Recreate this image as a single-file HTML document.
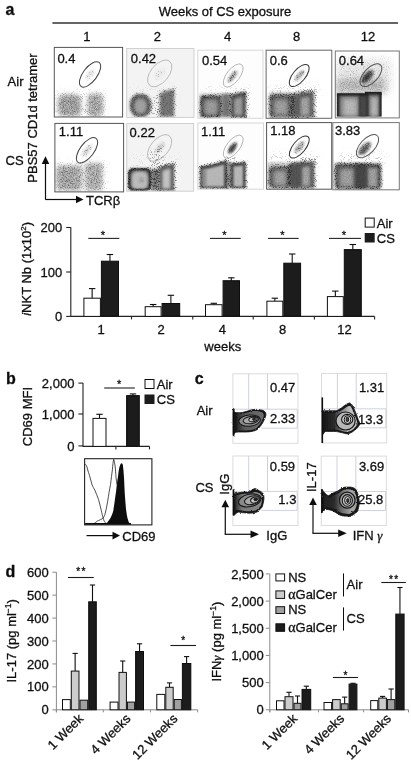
<!DOCTYPE html>
<html><head><meta charset="utf-8"><title>Figure</title>
<style>html,body{margin:0;padding:0;background:#fff;width:411px;height:763px;overflow:hidden}svg{display:block}text{stroke:#111;stroke-width:0.3px}</style>
</head><body>
<svg width="411" height="763" viewBox="0 0 411 763" font-family='"Liberation Sans", Arial, sans-serif' font-size="13" fill="#111">
<defs><filter id="b05" x="-50%" y="-50%" width="200%" height="200%"><feGaussianBlur stdDeviation="0.5"/></filter><filter id="b1" x="-50%" y="-50%" width="200%" height="200%"><feGaussianBlur stdDeviation="1"/></filter><filter id="b15" x="-50%" y="-50%" width="200%" height="200%"><feGaussianBlur stdDeviation="1.5"/></filter><filter id="b2" x="-50%" y="-50%" width="200%" height="200%"><feGaussianBlur stdDeviation="2"/></filter><filter id="b3" x="-50%" y="-50%" width="200%" height="200%"><feGaussianBlur stdDeviation="3"/></filter><filter id="b5" x="-50%" y="-50%" width="200%" height="200%"><feGaussianBlur stdDeviation="5"/></filter>
<filter id="dith" filterUnits="userSpaceOnUse" x="0" y="0" width="411" height="763" color-interpolation-filters="sRGB">
  <feTurbulence type="fractalNoise" baseFrequency="1.13" numOctaves="2" seed="7" result="n"/>
  <feColorMatrix in="n" type="matrix" values="0 0 0 0 0  0 0 0 0 0  0 0 0 0 0  3 0 0 0 -1" result="na"/>
  <feComposite in="SourceGraphic" in2="na" operator="arithmetic" k1="0" k2="2.2" k3="-2.2" k4="0" result="d"/>
  <feColorMatrix in="d" type="matrix" values="1 0 0 0 0  0 1 0 0 0  0 0 1 0 0  0 0 0 0.5 0" result="e"/>
  <feGaussianBlur in="e" stdDeviation="0.55"/>
</filter>
<filter id="dith2" filterUnits="userSpaceOnUse" x="0" y="0" width="411" height="763" color-interpolation-filters="sRGB">
  <feTurbulence type="fractalNoise" baseFrequency="0.85" numOctaves="2" seed="5" result="n"/>
  <feColorMatrix in="n" type="matrix" values="0 0 0 0 0  0 0 0 0 0  0 0 0 0 0  3 0 0 0 -1" result="na"/>
  <feComposite in="SourceGraphic" in2="na" operator="arithmetic" k1="0" k2="1.5" k3="-1.5" k4="0.1" result="d"/>
  <feColorMatrix in="d" type="matrix" values="1 0 0 0 0  0 1 0 0 0  0 0 1 0 0  0 0 0 0.75 0" result="e"/>
  <feGaussianBlur in="e" stdDeviation="0.5"/>
</filter>
<filter id="tex" filterUnits="userSpaceOnUse" x="0" y="0" width="411" height="763" color-interpolation-filters="sRGB">
  <feTurbulence type="fractalNoise" baseFrequency="0.85" numOctaves="2" seed="3" result="n"/>
  <feColorMatrix in="n" type="matrix" values="0 0 0 0 0  0 0 0 0 0  0 0 0 0 0  3 0 0 0 -1" result="na"/>
  <feComposite in="SourceGraphic" in2="na" operator="arithmetic" k1="0.55" k2="0.75" k3="0" k4="0" result="d"/>
  <feGaussianBlur in="d" stdDeviation="0.35"/>
</filter>
<filter id="soft" filterUnits="userSpaceOnUse" x="0" y="0" width="411" height="763"><feGaussianBlur stdDeviation="0.3"/></filter>
<filter id="rough" x="-10%" y="-10%" width="120%" height="120%">
  <feTurbulence type="fractalNoise" baseFrequency="0.45" numOctaves="2" seed="11" result="t"/>
  <feDisplacementMap in="SourceGraphic" in2="t" scale="2.2" xChannelSelector="R" yChannelSelector="G"/>
</filter>
</defs>
<rect width="411" height="763" fill="#fff"/>
<g filter="url(#soft)">
<text x="5.5" y="15" font-size="16" font-weight="bold">a</text>
<text x="225" y="15.6" text-anchor="middle">Weeks of CS exposure</text>
<line x1="52.4" y1="23" x2="398" y2="23" stroke="#333" stroke-width="1.3"/>
<text x="86.8" y="41" text-anchor="middle">1</text>
<text x="157.4" y="41" text-anchor="middle">2</text>
<text x="227.6" y="41" text-anchor="middle">4</text>
<text x="296.7" y="41" text-anchor="middle">8</text>
<text x="368" y="41" text-anchor="middle">12</text>
<text x="7.6" y="85.6">Air</text>
<text x="5.6" y="164.5">CS</text>
<text transform="translate(37.3,118) rotate(-90)" text-anchor="middle">PBS57 CD1d tetramer</text>
<line x1="45.5" y1="199.5" x2="45.5" y2="163" stroke="#111" stroke-width="1.2"/>
<path d="M41.7,164 L45.5,156.2 L49.3,164 Z" fill="#111"/>
<line x1="45.2" y1="199.5" x2="77" y2="199.5" stroke="#111" stroke-width="1.2"/>
<path d="M76,195.7 L83.5,199.5 L76,203.3 Z" fill="#111"/>
<text x="86" y="205">TCR&#946;</text>
<clipPath id="fc1"><rect x="54.3" y="47.4" width="68.30" height="69.60"/></clipPath>
<rect x="54.3" y="47.4" width="68.30" height="69.60" fill="#fff" stroke="none" stroke-width="1"/>
<g clip-path="url(#fc1)">
<g filter="url(#tex)"><rect x="58" y="94.5" width="23.00" height="22.00" rx="6" fill="#000" fill-opacity="0.36" filter="url(#b2)"/><rect x="87.5" y="93.5" width="15.50" height="23.00" rx="5" fill="#000" fill-opacity="0.33" filter="url(#b2)"/><ellipse cx="90" cy="74.5" rx="6.5" ry="2.2" transform="rotate(-53 90 74.5)" fill="#000" fill-opacity="0.12" filter="url(#b15)"/></g>
<g filter="url(#dith)"><rect x="56" y="91" width="50.00" height="26.00" rx="0" fill="#000" fill-opacity="0.2" filter="url(#b3)"/><ellipse cx="90" cy="74.5" rx="6.5" ry="2.2" transform="rotate(-53 90 74.5)" fill="#000" fill-opacity="0.3" filter="url(#b15)"/></g>
</g>
<ellipse cx="90.05" cy="74.45" rx="15" ry="7" transform="rotate(-53 90.05 74.45)" fill="none" stroke="#444" stroke-width="1"/>
<rect x="54.3" y="47.4" width="68.30" height="69.60" fill="none" stroke="#555" stroke-width="1"/>
<text x="57.4" y="62.8">0.4</text>
<clipPath id="fc2"><rect x="126.7" y="48.5" width="67.30" height="68.90"/></clipPath>
<rect x="126.7" y="48.5" width="67.30" height="68.90" fill="#f3f3f3" stroke="none" stroke-width="1"/>
<g clip-path="url(#fc2)">
<rect x="130" y="94" width="21.00" height="23.00" rx="9" fill="#8a8a8a" opacity="1" filter="url(#b15)"/>
<rect x="134.5" y="99" width="12.00" height="16.50" rx="5" fill="#b4b4b4" opacity="1" filter="url(#b2)"/>
<polygon points="159.8,93.5 166,91 174,89.5 174,116.8 159.8,116.8" fill="#8a8a8a" opacity="1" filter="url(#b15)"/>
<g filter="url(#tex)"><rect x="132.00" y="96.00" width="17.00" height="19.20" rx="9" fill="#000" fill-opacity="0.1" stroke="#000" stroke-opacity="0.3" stroke-width="4" filter="url(#b1)"/><polygon points="159.8,93.5 166,91 174,89.5 174,116.8 159.8,116.8" fill="#000" fill-opacity="0.16" filter="url(#b1)"/><ellipse cx="159.5" cy="74" rx="7" ry="3.5" transform="rotate(-48 159.5 74)" fill="#000" fill-opacity="0.03" filter="url(#b15)"/></g>
<g filter="url(#dith)"><rect x="130.55" y="94.55" width="19.90" height="21.70" rx="9" fill="#000" fill-opacity="0" stroke="#000" stroke-opacity="0.45" stroke-width="2.5" filter="url(#b15)"/><polygon points="159,92.8 166,90.3 174.7,88.8 174.7,117.5 159,117.5" fill="#000" fill-opacity="0.15" stroke="#000" stroke-width="2.5" stroke-opacity="0.45" stroke-linejoin="round" filter="url(#b15)"/><rect x="151" y="96" width="8.50" height="20.50" rx="0" fill="#000" fill-opacity="0.28" filter="url(#b15)"/><rect x="130" y="86" width="48.00" height="9.00" rx="0" fill="#000" fill-opacity="0.08" filter="url(#b3)"/><ellipse cx="159.5" cy="74" rx="7" ry="3.5" transform="rotate(-48 159.5 74)" fill="#000" fill-opacity="0.2" filter="url(#b15)"/></g>
</g>
<ellipse cx="159.7" cy="73.4" rx="15.6" ry="9.0" transform="rotate(-50 159.7 73.4)" fill="none" stroke="#b0b0b0" stroke-width="0.8"/>
<rect x="126.7" y="48.5" width="67.30" height="68.90" fill="none" stroke="#d0d0d0" stroke-width="1"/>
<text x="130.8" y="63">0.42</text>
<clipPath id="fc3"><rect x="197.8" y="50.2" width="65.20" height="68.10"/></clipPath>
<rect x="197.8" y="50.2" width="65.20" height="68.10" fill="#fdfdfd" stroke="none" stroke-width="1"/>
<g clip-path="url(#fc3)">
<rect x="200.3" y="95.7" width="21.20" height="21.50" rx="3" fill="#5e5e5e" opacity="1" filter="url(#b1)"/>
<rect x="204" y="99.5" width="14.00" height="16.00" rx="3" fill="#b8b8b8" opacity="1" filter="url(#b2)"/>
<polygon points="230.8,95.5 238,93 245.8,91.5 245.8,117.2 230.8,117.2" fill="#5e5e5e" opacity="1" filter="url(#b1)"/>
<polygon points="234,99 238.5,97.5 242.5,96.5 242.5,115.5 234,115.5" fill="#b8b8b8" opacity="1" filter="url(#b15)"/>
<rect x="221.5" y="94" width="9.30" height="23.00" rx="0" fill="#8a8a8a" opacity="1" filter="url(#b15)"/>
<g filter="url(#tex)"><rect x="199.5" y="93" width="47.00" height="24.50" rx="0" fill="#000" fill-opacity="0.16" filter="url(#b1)"/><ellipse cx="232.5" cy="76.5" rx="7" ry="2.3" transform="rotate(-52 232.5 76.5)" fill="#000" fill-opacity="0.4" filter="url(#b1)"/></g>
<g filter="url(#dith)"><rect x="200.80" y="96.20" width="20.20" height="20.30" rx="4" fill="#000" fill-opacity="0" stroke="#000" stroke-opacity="0.7" stroke-width="3" filter="url(#b15)"/><polygon points="230,94.7 238,92.2 246.6,90.7 246.6,118 230,118" fill="#000" fill-opacity="0" stroke="#000" stroke-width="3" stroke-opacity="0.7" stroke-linejoin="round" filter="url(#b15)"/><rect x="205" y="86" width="45.00" height="10.00" rx="0" fill="#000" fill-opacity="0.12" filter="url(#b3)"/><ellipse cx="232.5" cy="76.5" rx="7.5" ry="2.6" transform="rotate(-52 232.5 76.5)" fill="#000" fill-opacity="0.4" filter="url(#b1)"/></g>
</g>
<ellipse cx="233.2" cy="75.5" rx="13.8" ry="6.5" transform="rotate(-52 233.2 75.5)" fill="none" stroke="#aaa" stroke-width="0.8"/>
<rect x="197.8" y="50.2" width="65.20" height="68.10" fill="none" stroke="#d8d8d8" stroke-width="1"/>
<text x="202" y="65">0.54</text>
<clipPath id="fc4"><rect x="266.1" y="50.2" width="65.70" height="68.10"/></clipPath>
<rect x="266.1" y="50.2" width="65.70" height="68.10" fill="#fff" stroke="none" stroke-width="1"/>
<g clip-path="url(#fc4)">
<rect x="269.5" y="94.8" width="22.50" height="22.50" rx="4" fill="#6e6e6e" opacity="1" filter="url(#b15)"/>
<rect x="274" y="99.5" width="14.00" height="16.00" rx="3" fill="#c0c0c0" opacity="1" filter="url(#b2)"/>
<polygon points="293.5,95 303,92.2 313.5,91.5 313.5,117.3 293.5,117.3" fill="#707070" opacity="1" filter="url(#b15)"/>
<polygon points="300.5,98.5 305,97.2 309.5,96.7 309.5,115.5 300.5,115.5" fill="#c4c4c4" opacity="1" filter="url(#b15)"/>
<rect x="290.5" y="95" width="6.50" height="22.00" rx="0" fill="#777" opacity="1" filter="url(#b15)"/>
<g filter="url(#tex)"><rect x="269" y="92" width="45.50" height="25.50" rx="0" fill="#000" fill-opacity="0.18" filter="url(#b1)"/><ellipse cx="299.5" cy="75.5" rx="7" ry="2.5" transform="rotate(-50 299.5 75.5)" fill="#000" fill-opacity="0.3" filter="url(#b1)"/></g>
<g filter="url(#dith)"><rect x="270.00" y="95.30" width="21.50" height="21.20" rx="4" fill="#000" fill-opacity="0" stroke="#000" stroke-opacity="0.7" stroke-width="3" filter="url(#b15)"/><polygon points="292.5,94.2 303,91.4 314.5,90.7 314.5,118 292.5,118" fill="#000" fill-opacity="0" stroke="#000" stroke-width="3" stroke-opacity="0.7" stroke-linejoin="round" filter="url(#b15)"/><rect x="268" y="84" width="52.00" height="12.00" rx="0" fill="#000" fill-opacity="0.16" filter="url(#b3)"/><ellipse cx="299.5" cy="75.5" rx="7.5" ry="2.8" transform="rotate(-50 299.5 75.5)" fill="#000" fill-opacity="0.4" filter="url(#b1)"/></g>
</g>
<ellipse cx="299.2" cy="75.5" rx="13.5" ry="6.2" transform="rotate(-50 299.2 75.5)" fill="none" stroke="#333" stroke-width="1"/>
<rect x="266.1" y="50.2" width="65.70" height="68.10" fill="none" stroke="#666" stroke-width="1"/>
<text x="269.7" y="65">0.6</text>
<clipPath id="fc5"><rect x="335.3" y="51" width="64.00" height="66.90"/></clipPath>
<rect x="335.3" y="51" width="64.00" height="66.90" fill="#fff" stroke="none" stroke-width="1"/>
<g clip-path="url(#fc5)">
<rect x="336.9" y="93.2" width="44.70" height="23.40" rx="0" fill="#2a2a2a" opacity="1" filter="url(#b05)"/>
<rect x="365" y="91.8" width="16.60" height="3.20" rx="0" fill="#2a2a2a" opacity="1" filter="url(#b05)"/>
<rect x="339.5" y="96" width="19.50" height="20.50" rx="0" fill="#8a8a8a" opacity="1" filter="url(#b1)"/>
<rect x="343" y="98.5" width="14.00" height="17.50" rx="0" fill="#cacaca" opacity="1" filter="url(#b2)"/>
<rect x="368.5" y="94.5" width="10.50" height="22.00" rx="0" fill="#8a8a8a" opacity="1" filter="url(#b1)"/>
<rect x="371" y="97.5" width="6.50" height="18.50" rx="0" fill="#c6c6c6" opacity="1" filter="url(#b15)"/>
<rect x="359.5" y="96" width="7.50" height="20.50" rx="0" fill="#505050" opacity="1" filter="url(#b1)"/>
<g filter="url(#tex)"><rect x="336" y="60" width="54.00" height="33.00" rx="0" fill="#000" fill-opacity="0.1" filter="url(#b5)"/><rect x="336" y="79" width="49.00" height="14.00" rx="0" fill="#000" fill-opacity="0.2" filter="url(#b3)"/><rect x="336" y="92" width="46.00" height="24.00" rx="0" fill="#000" fill-opacity="0.1" filter="url(#b05)"/><ellipse cx="367.5" cy="76.5" rx="8.5" ry="3.8" transform="rotate(-47 367.5 76.5)" fill="#000" fill-opacity="0.45" filter="url(#b1)"/></g>
<g filter="url(#dith)"><rect x="337" y="58" width="53.00" height="34.00" rx="0" fill="#000" fill-opacity="0.12" filter="url(#b5)"/></g>
<ellipse cx="367" cy="76.8" rx="6" ry="2.6" transform="rotate(-47 367 76.8)" fill="#2a2a2a" opacity="0.85" filter="url(#b15)"/>
</g>
<ellipse cx="370.9" cy="75.2" rx="14" ry="7.2" transform="rotate(-47 370.9 75.2)" fill="none" stroke="#555" stroke-width="1"/>
<rect x="335.3" y="51" width="64.00" height="66.90" fill="none" stroke="#777" stroke-width="1"/>
<text x="338.8" y="64.8">0.64</text>
<clipPath id="fc6"><rect x="54.9" y="123.4" width="68.70" height="68.50"/></clipPath>
<rect x="54.9" y="123.4" width="68.70" height="68.50" fill="#fff" stroke="none" stroke-width="1"/>
<g clip-path="url(#fc6)">
<g filter="url(#tex)"><rect x="56.6" y="165.7" width="24.90" height="24.70" rx="3" fill="#000" fill-opacity="0.33" filter="url(#b2)"/><rect x="85.5" y="163.1" width="16.80" height="27.30" rx="3" fill="#000" fill-opacity="0.31" filter="url(#b2)"/><rect x="81" y="167" width="4.00" height="23.00" rx="0" fill="#000" fill-opacity="0.03" filter="url(#b2)"/><ellipse cx="87" cy="150.5" rx="7.5" ry="2.5" transform="rotate(-53 87 150.5)" fill="#000" fill-opacity="0.16" filter="url(#b15)"/></g>
<g filter="url(#dith)"><rect x="56" y="161" width="50.00" height="30.00" rx="0" fill="#000" fill-opacity="0.25" filter="url(#b3)"/><ellipse cx="87" cy="150.5" rx="7.5" ry="2.5" transform="rotate(-53 87 150.5)" fill="#000" fill-opacity="0.35" filter="url(#b15)"/></g>
</g>
<ellipse cx="87" cy="150.3" rx="15" ry="7" transform="rotate(-53 87 150.3)" fill="none" stroke="#444" stroke-width="1"/>
<rect x="54.9" y="123.4" width="68.70" height="68.50" fill="none" stroke="#555" stroke-width="1"/>
<text x="58.8" y="136.4">1.11</text>
<clipPath id="fc7"><rect x="126.7" y="123.5" width="66.90" height="67.70"/></clipPath>
<rect x="126.7" y="123.5" width="66.90" height="67.70" fill="#f3f3f3" stroke="none" stroke-width="1"/>
<g clip-path="url(#fc7)">
<rect x="128" y="168" width="23.30" height="22.80" rx="5" fill="#5a5a5a" opacity="1" filter="url(#b1)"/>
<rect x="131.5" y="171.3" width="16.50" height="18.20" rx="5" fill="#c6c6c6" opacity="1" filter="url(#b15)"/>
<polygon points="158.8,167.8 166,165.5 174,163.5 174,190.8 158.8,190.8" fill="#5a5a5a" opacity="1" filter="url(#b1)"/>
<polygon points="162.3,170.8 166,169.5 170.5,168.3 170.5,188.8 162.3,188.8" fill="#c2c2c2" opacity="1" filter="url(#b15)"/>
<rect x="151" y="169" width="8.00" height="21.50" rx="0" fill="#7a7a7a" opacity="1" filter="url(#b15)"/>
<g filter="url(#tex)"><rect x="129.25" y="169.25" width="20.80" height="20.50" rx="5" fill="#000" fill-opacity="0.05" stroke="#000" stroke-opacity="0.35" stroke-width="2.5" filter="url(#b05)"/><ellipse cx="141.5" cy="180" rx="2.5" ry="3.5" transform="rotate(0 141.5 180)" fill="#000" fill-opacity="0.12" filter="url(#b1)"/><ellipse cx="160" cy="147.5" rx="6" ry="2.5" transform="rotate(-48 160 147.5)" fill="#000" fill-opacity="0.15" filter="url(#b1)"/></g>
<g filter="url(#dith)"><rect x="128.60" y="168.60" width="22.10" height="21.60" rx="5" fill="#000" fill-opacity="0" stroke="#000" stroke-opacity="0.75" stroke-width="2.6" filter="url(#b1)"/><polygon points="158.1,167.1 166,164.8 174.7,162.8 174.7,191.5 158.1,191.5" fill="#000" fill-opacity="0" stroke="#000" stroke-width="2.6" stroke-opacity="0.75" stroke-linejoin="round" filter="url(#b1)"/><rect x="151" y="168" width="8.00" height="22.50" rx="0" fill="#000" fill-opacity="0.5" filter="url(#b1)"/><rect x="150" y="150" width="13.00" height="18.00" rx="0" fill="#000" fill-opacity="0.3" filter="url(#b15)"/><rect x="130" y="154" width="50.00" height="14.00" rx="0" fill="#000" fill-opacity="0.08" filter="url(#b3)"/><ellipse cx="160" cy="147.5" rx="6" ry="2.5" transform="rotate(-48 160 147.5)" fill="#000" fill-opacity="0.35" filter="url(#b1)"/></g>
</g>
<ellipse cx="159.6" cy="148" rx="15.6" ry="9.0" transform="rotate(-50 159.6 148)" fill="none" stroke="#b0b0b0" stroke-width="0.8"/>
<rect x="126.7" y="123.5" width="66.90" height="67.70" fill="none" stroke="#d0d0d0" stroke-width="1"/>
<text x="129.6" y="137.4">0.22</text>
<clipPath id="fc8"><rect x="197.8" y="123" width="65.70" height="66.20"/></clipPath>
<rect x="197.8" y="123" width="65.70" height="66.20" fill="#fdfdfd" stroke="none" stroke-width="1"/>
<g clip-path="url(#fc8)">
<rect x="226" y="162" width="6.00" height="26.00" rx="0" fill="#9a9a9a" opacity="1" filter="url(#b1)"/>
<polygon points="200.3,166.5 212,164.5 222,161.8 226.7,160.3 226.9,188.2 200.3,188.2" fill="#404040" opacity="1" filter="url(#b1)"/>
<polygon points="202.8,169.8 212,167.6 222,165 224.2,163.8 224.2,186.8 202.8,186.8" fill="#c2c2c2" opacity="1" filter="url(#b1)"/>
<rect x="202.5" y="169" width="3.50" height="18.00" rx="0" fill="#8a8a8a" opacity="1" filter="url(#b15)"/>
<polygon points="230.8,163.8 238,163 245.6,162 245.6,188.2 230.8,188.2" fill="#444" opacity="1" filter="url(#b1)"/>
<polygon points="233.4,166.6 238,166 243,165.2 243,186.8 233.4,186.8" fill="#c2c2c2" opacity="1" filter="url(#b1)"/>
<g filter="url(#tex)"><polygon points="200.3,166.5 212,164.5 222,161.8 226.7,160.3 226.9,188.2 200.3,188.2" fill="#000" fill-opacity="0.06" filter="url(#b05)"/><polygon points="230.8,163.8 238,163 245.6,162 245.6,188.2 230.8,188.2" fill="#000" fill-opacity="0.06" filter="url(#b05)"/><ellipse cx="232.5" cy="148" rx="7" ry="2.8" transform="rotate(-55 232.5 148)" fill="#000" fill-opacity="0.55" filter="url(#b1)"/></g>
<g filter="url(#dith)"><polygon points="200,166.2 212,164.2 222,161.5 227,160 227.2,188.6 200,188.6" fill="#000" fill-opacity="0" stroke="#000" stroke-width="2.4" stroke-opacity="0.75" stroke-linejoin="round" filter="url(#b1)"/><polygon points="230.5,163.5 238,162.7 245.9,161.7 245.9,188.6 230.5,188.6" fill="#000" fill-opacity="0" stroke="#000" stroke-width="2.4" stroke-opacity="0.75" stroke-linejoin="round" filter="url(#b1)"/><rect x="225" y="156" width="11.00" height="7.00" rx="0" fill="#000" fill-opacity="0.3" filter="url(#b15)"/></g>
<ellipse cx="232.2" cy="148.2" rx="4.8" ry="2" transform="rotate(-55 232.2 148.2)" fill="#333" opacity="0.75" filter="url(#b1)"/>
</g>
<ellipse cx="233.2" cy="146.7" rx="13.8" ry="6.5" transform="rotate(-52 233.2 146.7)" fill="none" stroke="#aaa" stroke-width="0.8"/>
<rect x="197.8" y="123" width="65.70" height="66.20" fill="none" stroke="#d8d8d8" stroke-width="1"/>
<text x="201" y="135.7">1.11</text>
<clipPath id="fc9"><rect x="266.6" y="122.6" width="65.10" height="66.60"/></clipPath>
<rect x="266.6" y="122.6" width="65.10" height="66.60" fill="#fff" stroke="none" stroke-width="1"/>
<g clip-path="url(#fc9)">
<rect x="268.8" y="166.4" width="21.50" height="21.40" rx="4" fill="#727272" opacity="1" filter="url(#b15)"/>
<rect x="273.5" y="170.5" width="13.00" height="15.50" rx="3" fill="#c2c2c2" opacity="1" filter="url(#b2)"/>
<polygon points="289.8,165 300,162 313.8,161.6 313.8,187.8 289.8,187.8" fill="#6a6a6a" opacity="1" filter="url(#b15)"/>
<polygon points="302,167.5 306,166.5 310,166.3 310,186 302,186" fill="#c4c4c4" opacity="1" filter="url(#b15)"/>
<rect x="289.5" y="164" width="10.50" height="23.00" rx="0" fill="#666" opacity="1" filter="url(#b15)"/>
<g filter="url(#tex)"><rect x="268" y="162" width="47.00" height="26.00" rx="0" fill="#000" fill-opacity="0.18" filter="url(#b1)"/><ellipse cx="299.5" cy="147" rx="7.5" ry="3" transform="rotate(-50 299.5 147)" fill="#000" fill-opacity="0.3" filter="url(#b1)"/></g>
<g filter="url(#dith)"><rect x="269.30" y="166.90" width="20.50" height="20.20" rx="4" fill="#000" fill-opacity="0" stroke="#000" stroke-opacity="0.7" stroke-width="3" filter="url(#b15)"/><polygon points="288.8,164 300,161 314.8,160.6 314.8,188.6 288.8,188.6" fill="#000" fill-opacity="0" stroke="#000" stroke-width="3" stroke-opacity="0.7" stroke-linejoin="round" filter="url(#b15)"/><rect x="268" y="152" width="52.00" height="14.00" rx="0" fill="#000" fill-opacity="0.16" filter="url(#b3)"/><ellipse cx="299.5" cy="147" rx="7.5" ry="3" transform="rotate(-50 299.5 147)" fill="#000" fill-opacity="0.4" filter="url(#b1)"/></g>
</g>
<ellipse cx="299.3" cy="147" rx="13.5" ry="6.2" transform="rotate(-50 299.3 147)" fill="none" stroke="#333" stroke-width="1"/>
<rect x="266.6" y="122.6" width="65.10" height="66.60" fill="none" stroke="#555" stroke-width="1"/>
<text x="270.2" y="135.2">1.18</text>
<clipPath id="fc10"><rect x="332.8" y="122.6" width="66.50" height="67.20"/></clipPath>
<rect x="332.8" y="122.6" width="66.50" height="67.20" fill="#fff" stroke="none" stroke-width="1"/>
<g clip-path="url(#fc10)">
<rect x="335.3" y="164.1" width="45.50" height="24.70" rx="3" fill="#626262" opacity="1" filter="url(#b15)"/>
<rect x="339.5" y="168.5" width="14.50" height="19.00" rx="0" fill="#c0c0c0" opacity="1" filter="url(#b2)"/>
<rect x="368" y="168" width="9.50" height="19.50" rx="0" fill="#c0c0c0" opacity="1" filter="url(#b15)"/>
<rect x="355" y="164" width="11.00" height="24.00" rx="0" fill="#555" opacity="1" filter="url(#b15)"/>
<g filter="url(#tex)"><rect x="334.5" y="162.5" width="47.00" height="26.50" rx="0" fill="#000" fill-opacity="0.18" filter="url(#b1)"/><ellipse cx="364.8" cy="148.5" rx="8.5" ry="4" transform="rotate(-47 364.8 148.5)" fill="#000" fill-opacity="0.5" filter="url(#b1)"/></g>
<g filter="url(#dith)"><rect x="335.80" y="164.60" width="44.50" height="23.50" rx="3" fill="#000" fill-opacity="0" stroke="#000" stroke-opacity="0.7" stroke-width="3" filter="url(#b15)"/><rect x="340" y="152" width="45.00" height="14.00" rx="0" fill="#000" fill-opacity="0.22" filter="url(#b3)"/></g>
<ellipse cx="364" cy="149.5" rx="4.5" ry="2.2" transform="rotate(-47 364 149.5)" fill="#444" opacity="0.6" filter="url(#b1)"/>
</g>
<ellipse cx="367.5" cy="146.2" rx="14.3" ry="7.3" transform="rotate(-47 367.5 146.2)" fill="none" stroke="#555" stroke-width="1"/>
<rect x="332.8" y="122.6" width="66.50" height="67.20" fill="none" stroke="#777" stroke-width="1"/>
<text x="335" y="135.4">3.83</text>
<line x1="70.8" y1="227.3" x2="70.8" y2="316.9" stroke="#222" stroke-width="1.1"/>
<line x1="66.2" y1="227.5" x2="70.8" y2="227.5" stroke="#222" stroke-width="1.1"/>
<text x="62.3" y="232.1" text-anchor="end">200</text>
<line x1="66.2" y1="272" x2="70.8" y2="272" stroke="#222" stroke-width="1.1"/>
<text x="62.3" y="276.6" text-anchor="end">100</text>
<line x1="66.2" y1="316.4" x2="70.8" y2="316.4" stroke="#222" stroke-width="1.1"/>
<text x="62.3" y="321.0" text-anchor="end">0</text>
<line x1="70.8" y1="316.4" x2="374.6" y2="316.4" stroke="#222" stroke-width="1.1"/>
<line x1="131.5" y1="316.4" x2="131.5" y2="319.4" stroke="#222" stroke-width="1.1"/>
<line x1="192.8" y1="316.4" x2="192.8" y2="319.4" stroke="#222" stroke-width="1.1"/>
<line x1="253.2" y1="316.4" x2="253.2" y2="319.4" stroke="#222" stroke-width="1.1"/>
<line x1="314.4" y1="316.4" x2="314.4" y2="319.4" stroke="#222" stroke-width="1.1"/>
<line x1="374.6" y1="316.4" x2="374.6" y2="319.4" stroke="#222" stroke-width="1.1"/>
<line x1="92.15" y1="298.2" x2="92.15" y2="288.6" stroke="#111" stroke-width="1.1"/>
<line x1="88.95" y1="288.6" x2="95.35000000000001" y2="288.6" stroke="#111" stroke-width="1.1"/>
<rect x="83.90" y="298.20" width="16.50" height="18.20" fill="#fff" stroke="#111" stroke-width="1.0"/>
<line x1="109.95" y1="261.2" x2="109.95" y2="254.5" stroke="#111" stroke-width="1.1"/>
<line x1="106.75" y1="254.5" x2="113.15" y2="254.5" stroke="#111" stroke-width="1.1"/>
<rect x="101.40" y="261.20" width="17.10" height="55.20" fill="#1a1a1a" stroke="#111" stroke-width="1.0"/>
<text x="101" y="334" text-anchor="middle">1</text>
<line x1="153.14999999999998" y1="306.7" x2="153.14999999999998" y2="304.5" stroke="#111" stroke-width="1.1"/>
<line x1="149.95" y1="304.5" x2="156.34999999999997" y2="304.5" stroke="#111" stroke-width="1.1"/>
<rect x="145.20" y="306.70" width="15.90" height="9.70" fill="#fff" stroke="#111" stroke-width="1.0"/>
<line x1="170.89999999999998" y1="303.5" x2="170.89999999999998" y2="295.3" stroke="#111" stroke-width="1.1"/>
<line x1="167.7" y1="295.3" x2="174.09999999999997" y2="295.3" stroke="#111" stroke-width="1.1"/>
<rect x="162.10" y="303.50" width="17.60" height="12.90" fill="#1a1a1a" stroke="#111" stroke-width="1.0"/>
<text x="161.2" y="334" text-anchor="middle">2</text>
<line x1="213.8" y1="304.7" x2="213.8" y2="303.3" stroke="#111" stroke-width="1.1"/>
<line x1="210.60000000000002" y1="303.3" x2="217.0" y2="303.3" stroke="#111" stroke-width="1.1"/>
<rect x="205.50" y="304.70" width="16.60" height="11.70" fill="#fff" stroke="#111" stroke-width="1.0"/>
<line x1="231.3" y1="280.7" x2="231.3" y2="277.8" stroke="#111" stroke-width="1.1"/>
<line x1="228.10000000000002" y1="277.8" x2="234.5" y2="277.8" stroke="#111" stroke-width="1.1"/>
<rect x="223.10" y="280.70" width="16.40" height="35.70" fill="#1a1a1a" stroke="#111" stroke-width="1.0"/>
<text x="222.4" y="334" text-anchor="middle">4</text>
<line x1="274.85" y1="301.2" x2="274.85" y2="298.2" stroke="#111" stroke-width="1.1"/>
<line x1="271.65000000000003" y1="298.2" x2="278.05" y2="298.2" stroke="#111" stroke-width="1.1"/>
<rect x="266.90" y="301.20" width="15.90" height="15.20" fill="#fff" stroke="#111" stroke-width="1.0"/>
<line x1="292.20000000000005" y1="263.2" x2="292.20000000000005" y2="254" stroke="#111" stroke-width="1.1"/>
<line x1="289.00000000000006" y1="254" x2="295.40000000000003" y2="254" stroke="#111" stroke-width="1.1"/>
<rect x="283.80" y="263.20" width="16.80" height="53.20" fill="#1a1a1a" stroke="#111" stroke-width="1.0"/>
<text x="282.6" y="334" text-anchor="middle">8</text>
<line x1="335.35" y1="296.6" x2="335.35" y2="291.1" stroke="#111" stroke-width="1.1"/>
<line x1="332.15000000000003" y1="291.1" x2="338.55" y2="291.1" stroke="#111" stroke-width="1.1"/>
<rect x="327.40" y="296.60" width="15.90" height="19.80" fill="#fff" stroke="#111" stroke-width="1.0"/>
<line x1="352.8" y1="249.6" x2="352.8" y2="244.5" stroke="#111" stroke-width="1.1"/>
<line x1="349.6" y1="244.5" x2="356.0" y2="244.5" stroke="#111" stroke-width="1.1"/>
<rect x="344.30" y="249.60" width="17.00" height="66.80" fill="#1a1a1a" stroke="#111" stroke-width="1.0"/>
<text x="344.6" y="334" text-anchor="middle">12</text>
<line x1="88.3" y1="238.4" x2="119.3" y2="238.4" stroke="#222" stroke-width="1.1"/>
<text x="102.8" y="238.6" font-size="11" text-anchor="middle">*</text>
<line x1="210" y1="238.4" x2="240.7" y2="238.4" stroke="#222" stroke-width="1.1"/>
<text x="224.35" y="238.6" font-size="11" text-anchor="middle">*</text>
<line x1="268" y1="238.4" x2="298.6" y2="238.4" stroke="#222" stroke-width="1.1"/>
<text x="282.3" y="238.6" font-size="11" text-anchor="middle">*</text>
<line x1="329" y1="238.4" x2="361" y2="238.4" stroke="#222" stroke-width="1.1"/>
<text x="344.0" y="238.6" font-size="11" text-anchor="middle">*</text>
<text x="222.8" y="351" text-anchor="middle">weeks</text>
<text transform="translate(31.4,268.9) rotate(-90)" text-anchor="middle"><tspan font-style="italic">i</tspan>NKT Nb (1x10<tspan font-size="8" dy="-5">2</tspan><tspan dy="5">)</tspan></text>
<rect x="365.2" y="218.1" width="9" height="9" fill="#fff" stroke="#111" stroke-width="1"/>
<text x="376.8" y="227.6">Air</text>
<rect x="364.7" y="233" width="10" height="9.5" fill="#1a1a1a"/>
<text x="376.8" y="242.6">CS</text>
<text x="6" y="384" font-size="16" font-weight="bold">b</text>
<line x1="83" y1="383" x2="83" y2="446.9" stroke="#222" stroke-width="1.1"/>
<line x1="78.4" y1="383.1" x2="83" y2="383.1" stroke="#222" stroke-width="1.1"/>
<text x="74.4" y="387.70000000000005" text-anchor="end">2,000</text>
<line x1="78.4" y1="414" x2="83" y2="414" stroke="#222" stroke-width="1.1"/>
<text x="74.4" y="418.6" text-anchor="end">1,000</text>
<line x1="78.4" y1="445.9" x2="83" y2="445.9" stroke="#222" stroke-width="1.1"/>
<text x="74.4" y="450.5" text-anchor="end">0</text>
<line x1="83" y1="446.4" x2="149.5" y2="446.4" stroke="#222" stroke-width="1.1"/>
<line x1="115.9" y1="446.4" x2="115.9" y2="449.4" stroke="#222" stroke-width="1.1"/>
<line x1="149.5" y1="446.4" x2="149.5" y2="449.4" stroke="#222" stroke-width="1.1"/>
<line x1="99.5" y1="418.4" x2="99.5" y2="414.3" stroke="#111" stroke-width="1.1"/>
<line x1="96.3" y1="414.3" x2="102.7" y2="414.3" stroke="#111" stroke-width="1.1"/>
<rect x="93.00" y="418.40" width="13.00" height="28.00" fill="#fff" stroke="#111" stroke-width="1.0"/>
<line x1="133" y1="395.6" x2="133" y2="393.9" stroke="#111" stroke-width="1.1"/>
<line x1="129.8" y1="393.9" x2="136.2" y2="393.9" stroke="#111" stroke-width="1.1"/>
<rect x="126.60" y="395.60" width="12.70" height="50.80" fill="#1a1a1a" stroke="#111" stroke-width="1.0"/>
<line x1="104.2" y1="388" x2="134.9" y2="388" stroke="#222" stroke-width="1.1"/>
<text x="119.2" y="388" font-size="11" text-anchor="middle">*</text>
<rect x="145" y="379.5" width="9" height="9" fill="#fff" stroke="#111" stroke-width="1"/>
<text x="156.8" y="388.6">Air</text>
<rect x="144.5" y="394.5" width="10" height="9.5" fill="#1a1a1a"/>
<text x="156.8" y="403.8">CS</text>
<text transform="translate(32,416.6) rotate(-90)" text-anchor="middle">CD69 MFI</text>
<rect x="84.6" y="458.7" width="67.3" height="66.2" fill="#fff" stroke="#222" stroke-width="1.1"/>
<path d="M105.9,523.6 C108,522.5 109,519.5 110.5,517.9 C112,515 113,512 113.3,510.5 C114.6,503 115.2,497 116,492 C116.8,485 117.3,480 117.9,477.2 C118.6,472 119,468 119.8,466.1 C120.5,463.8 121,463.2 121.6,463.2 C122.3,463.2 122.7,464 122.9,465.2 C123.4,469 123.7,473 124,477.2 C124.3,483 124.5,488 124.7,492 C125.2,500 125.7,506 126.2,510.5 C126.7,514 127.1,517 127.7,518.8 C128.3,521 128.9,522.8 129.8,523.6 Z" fill="#111"/>
<path d="M93.9,523.6 C96,522.5 97,521 98.5,520.6 C100,519.8 101,519.4 102.2,518.8 C103.5,517.8 104.3,516.2 105,514.2 C106,510 107,506 107.7,501.2 C108.6,495 109.6,489 110.5,484.6 C111.2,479 111.8,474 112.4,469.8 C112.8,465 113.2,461 113.7,459.3 C114.3,461 114.7,463.5 115.1,466 C115.5,470 115.8,474 116,477.2 C116.3,480 116.6,482.5 117,484.6" fill="none" stroke="#222" stroke-width="0.8"/>
<path d="M85,464 C86,464.5 86.8,466 87.5,469 C88.2,472 88.8,473 89.5,475.5 C90.3,478.5 91.2,481.5 92,484.6 C93,487 93.8,488.5 94.8,490.1 C96,493 97.3,496 98.5,499.4 C99.5,503 100.4,507 101.3,510.5 C102,513.5 102.5,516 103.1,517.9 C103.7,520 104.3,521.5 105,522.5 C105.8,523.3 106.5,523.6 108,523.6" fill="none" stroke="#222" stroke-width="0.8"/>
<line x1="85.1" y1="523.9" x2="131" y2="523.9" stroke="#111" stroke-width="1.6"/>
<line x1="86.5" y1="535.6" x2="113.5" y2="535.6" stroke="#111" stroke-width="1.2"/>
<path d="M112.5,531.8 L120,535.6 L112.5,539.4 Z" fill="#111"/>
<text x="122.3" y="540.5">CD69</text>
<text x="194.8" y="384" font-size="16" font-weight="bold">c</text>
<text x="196.7" y="414.9">Air</text>
<text x="195.4" y="492.2">CS</text>
<rect x="232.9" y="373.8" width="65.1" height="69.5" fill="#fff" stroke="#d8d8d8" stroke-width="0.9"/>
<path d="M248.70000000000002,373.8 V409.2 M267.5,373.8 V409.2 M232.9,409.2 H297.2 V428.2 H261.4" fill="none" stroke="#c3c7d6" stroke-width="0.8"/>
<linearGradient id="cg1" x1="0" x2="1" y1="0" y2="0"><stop offset="0" stop-color="#222"/><stop offset="0.3" stop-color="#5a5a5a"/><stop offset="1" stop-color="#6e6e6e"/></linearGradient>
<g filter="url(#rough)">
<path d="M233.40,409.60 C233.67,405.77 233.90,411.77 235.00,412.30 C236.10,412.83 238.33,412.88 240.00,412.80 C241.67,412.72 243.33,412.22 245.00,411.80 C246.67,411.38 248.50,410.68 250.00,410.30 C251.50,409.92 252.50,409.60 254.00,409.50 C255.50,409.40 257.45,409.52 259.00,409.70 C260.55,409.88 262.20,410.08 263.30,410.60 C264.40,411.12 265.18,411.98 265.60,412.80 C266.02,413.62 265.98,414.47 265.80,415.50 C265.62,416.53 265.08,417.65 264.50,419.00 C263.92,420.35 263.13,422.23 262.30,423.60 C261.47,424.97 260.40,426.17 259.50,427.20 C258.60,428.23 258.15,429.10 256.90,429.80 C255.65,430.50 253.82,431.03 252.00,431.40 C250.18,431.77 248.00,431.90 246.00,432.00 C244.00,432.10 241.57,431.98 240.00,432.00 C238.43,432.02 237.52,431.85 236.60,432.10 C235.68,432.35 235.03,432.97 234.50,433.50 C233.97,434.03 233.58,439.28 233.40,435.30 C233.22,431.32 233.13,413.43 233.40,409.60 Z" fill="#151515" stroke="#151515" stroke-width="0.8" stroke-linejoin="round"/>
<path d="M237.10,413.52 C237.89,410.55 239.97,414.02 241.40,413.95 C242.83,413.88 244.27,413.45 245.70,413.09 C247.13,412.73 248.71,412.13 250.00,411.80 C251.29,411.47 252.15,411.20 253.44,411.11 C254.73,411.02 256.41,411.12 257.74,411.28 C259.07,411.44 260.49,411.61 261.44,412.06 C262.38,412.50 263.06,413.25 263.42,413.95 C263.77,414.65 263.75,415.38 263.59,416.27 C263.43,417.16 262.97,418.12 262.47,419.28 C261.97,420.44 261.29,422.06 260.58,423.24 C259.86,424.41 258.94,425.44 258.17,426.33 C257.40,427.22 257.01,427.97 255.93,428.57 C254.86,429.17 253.28,429.63 251.72,429.94 C250.16,430.26 248.28,430.37 246.56,430.46 C244.84,430.55 242.75,430.45 241.40,430.46 C240.05,430.47 239.26,430.33 238.48,430.55 C237.69,430.76 236.90,434.59 236.67,431.75 C236.44,428.91 236.31,416.49 237.10,413.52 Z" fill="url(#cg1)" filter="url(#b05)"/>
</g>
<ellipse cx="249.6" cy="420.6" rx="10.8" ry="5.6" transform="rotate(-5 249.6 420.6)" fill="#8c8c8c" stroke="#151515" stroke-width="1.1"/>
<ellipse cx="250.8" cy="420.1" rx="7.8" ry="3.6" transform="rotate(-8 250.8 420.1)" fill="#a8a8a8" stroke="#151515" stroke-width="1.0"/>
<ellipse cx="253" cy="419.5" rx="4.2" ry="2.2" transform="rotate(-10 253 419.5)" fill="#c4c4c4" stroke="#151515" stroke-width="1.0"/>
<ellipse cx="254" cy="419.2" rx="1.6" ry="1.1" transform="rotate(-10 254 419.2)" fill="#333" stroke="#151515" stroke-width="0.8"/>
<line x1="233.4" y1="409.6" x2="233.4" y2="435.3" stroke="#111" stroke-width="1.4"/>
<text x="270" y="391.7">0.47</text>
<text x="270" y="423">2.33</text>
<rect x="321.6" y="373.4" width="65.1" height="69.5" fill="#fff" stroke="#d8d8d8" stroke-width="0.9"/>
<path d="M337.40000000000003,373.4 V408.79999999999995 M356.20000000000005,373.4 V408.79999999999995 M321.6,408.79999999999995 H385.90000000000003 V427.79999999999995 H350.1" fill="none" stroke="#c3c7d6" stroke-width="0.8"/>
<linearGradient id="cg2" x1="0" x2="1" y1="0" y2="0"><stop offset="0" stop-color="#1a1a1a"/><stop offset="0.3" stop-color="#2a2a2a"/><stop offset="0.55" stop-color="#8a8a8a"/><stop offset="0.8" stop-color="#c4c4c4"/><stop offset="1" stop-color="#bbb"/></linearGradient>
<g filter="url(#rough)">
<path d="M322.9,410.8 L336.2,410.8 C339,409.5 341,408.5 342.3,407.2 C345,405 347.5,403.5 349.6,402.9 C351.5,403.5 352.5,405.5 353.3,407.2 C355,411 357,415.5 358.1,419.3 C359,421.5 360,423 360,424.2 C358,427 356.5,429 354.5,430.3 C352,432.5 349.5,433.5 347.2,433.9 C343,433 339.5,432 336.2,431.5 C332,431.3 328,431.5 325.3,431.5 C324,432.5 323.3,433.5 322.9,434.5 Z" fill="#151515" stroke="#151515" stroke-width="0.8" stroke-linejoin="round"/>
<path d="M324.5,412.8 L336.8,412.8 C340,411.3 343,409.8 345.5,407.8 C347.5,406.3 349.5,405.6 350.8,406.5 C352.3,409 354.3,413.5 355.8,418 C356.8,421 357.8,423 357.3,424.5 C355.8,427 353.8,429 351.8,430.3 C349.3,431.5 347.3,432 345.3,431.8 C341.8,431 338.8,430.2 335.8,429.8 C331.3,429.6 327.8,429.6 324.5,429.8 Z" fill="url(#cg2)" filter="url(#b05)"/>
</g>
<ellipse cx="345.6" cy="421" rx="9.6" ry="9.0" transform="rotate(0 345.6 421)" fill="#b8b8b8" stroke="#151515" stroke-width="1.2"/>
<ellipse cx="347.2" cy="419.4" rx="5.6" ry="5.0" transform="rotate(0 347.2 419.4)" fill="#cfcfcf" stroke="#151515" stroke-width="1.1"/>
<ellipse cx="347.5" cy="419.6" rx="3.3" ry="4.0" transform="rotate(0 347.5 419.6)" fill="#dcdcdc" stroke="#151515" stroke-width="1.0"/>
<ellipse cx="347.4" cy="419.4" rx="1.3" ry="2.3" transform="rotate(0 347.4 419.4)" fill="#444" stroke="#151515" stroke-width="1.0"/>
<line x1="322.3" y1="397.4" x2="322.3" y2="443" stroke="#111" stroke-width="1.6"/>
<text x="358.9" y="392">1.31</text>
<text x="358" y="423.9">13.3</text>
<rect x="232.9" y="456" width="65.1" height="69.5" fill="#fff" stroke="#d8d8d8" stroke-width="0.9"/>
<path d="M248.70000000000002,456 V491.4 M267.5,456 V491.4 M232.9,491.4 H297.2 V510.4 H261.4" fill="none" stroke="#c3c7d6" stroke-width="0.8"/>
<linearGradient id="cg3" x1="0" x2="1" y1="0" y2="0"><stop offset="0" stop-color="#2a2a2a"/><stop offset="0.25" stop-color="#777"/><stop offset="1" stop-color="#8a8a8a"/></linearGradient>
<g filter="url(#rough)">
<path d="M233.4,489.6 L234.4,493.9 C237,493 239.5,492.5 241.9,492.3 C245,492 247.5,492 249.4,491.8 C251.5,490.5 253,489 254.8,488.6 C256.5,488.8 257.8,489.8 259,490.7 C261,491.5 262.5,492.5 263.3,493.9 C264,496 264,498 263.9,499.3 C263.5,502 263,504.5 262.3,506.8 C260.5,509 258.8,511 256.9,512.1 C254,513 251.5,513.2 249.4,513.2 C245,513 241.5,512.5 238.7,512.1 C236.5,512.8 235,514 234.4,515.3 L233.4,515.3 Z" fill="#151515" stroke="#151515" stroke-width="0.8" stroke-linejoin="round"/>
<path d="M235.3,495.8 C238,494.8 240.5,494.3 242.5,494.1 C246,493.8 249,493.8 251,493.3 C253,492.3 255,491.3 257,492.3 C259.5,493.3 261,494.3 261.9,495.8 C262.3,499 261.9,502 261.1,505 C259.6,507.5 257.6,509.5 255.6,510.5 C252.6,511.3 249.6,511.3 247.1,511.2 C243.1,510.8 240.1,510.3 237.6,510 C236.6,510 236,510 235.3,510 Z" fill="url(#cg3)" filter="url(#b05)"/>
</g>
<ellipse cx="249.8" cy="500.4" rx="11.4" ry="6.2" transform="rotate(-12 249.8 500.4)" fill="#8a8a8a" stroke="#151515" stroke-width="1.1"/>
<ellipse cx="252.2" cy="500.2" rx="7.9" ry="4.2" transform="rotate(-15 252.2 500.2)" fill="#a8a8a8" stroke="#151515" stroke-width="1.0"/>
<ellipse cx="254.8" cy="499.9" rx="4.3" ry="2.9" transform="rotate(-20 254.8 499.9)" fill="#c4c4c4" stroke="#151515" stroke-width="1.0"/>
<ellipse cx="255.7" cy="499.3" rx="1.9" ry="1.4" transform="rotate(-10 255.7 499.3)" fill="#222" stroke="#151515" stroke-width="0.8"/>
<line x1="233.4" y1="489.6" x2="233.4" y2="515.3" stroke="#111" stroke-width="1.4"/>
<text x="269.8" y="470.8">0.59</text>
<text x="278.3" y="504.2">1.3</text>
<rect x="321.2" y="456.1" width="65.1" height="69.5" fill="#fff" stroke="#d8d8d8" stroke-width="0.9"/>
<path d="M337.0,456.1 V491.5 M355.8,456.1 V491.5 M321.2,491.5 H385.5 V510.5 H349.7" fill="none" stroke="#c3c7d6" stroke-width="0.8"/>
<linearGradient id="cg4" x1="0" x2="1" y1="0" y2="0"><stop offset="0" stop-color="#202020"/><stop offset="0.3" stop-color="#2a2a2a"/><stop offset="0.55" stop-color="#707070"/><stop offset="0.85" stop-color="#a8a8a8"/><stop offset="1" stop-color="#999"/></linearGradient>
<g filter="url(#rough)">
<path d="M322.1,489.7 C324,492 326,494.5 328.2,495.8 C331.5,494 334.5,492 337.9,491 C340,489.5 342,488 344,487.3 C347,487 350,487 352.5,487.3 C354,488 355.3,488.8 356.1,489.7 C357.3,492 358.2,494.5 358.6,497 C359.2,499.5 359.3,502 359.2,504.3 C358.8,507 358.2,509.5 357.4,511.6 C355,513.5 352.5,515.5 350.1,516.5 C347,516.3 343,516 340.3,515.3 C337,513.5 334.5,511.5 331.8,510.4 C329.5,509.8 327.5,509.4 325.7,509.2 C324,510.5 322.5,511.5 321.5,512.8 Z" fill="#151515" stroke="#151515" stroke-width="0.8" stroke-linejoin="round"/>
<path d="M324.5,494 C326,495.5 327.5,497.5 329.5,497.8 C332.5,496 335.5,494.2 338.5,493.2 C341,491.5 343,490 345,489.5 C348,489.2 350.5,489.3 352.5,490 C354.5,491.5 355.8,494 356.5,497 C357,500 357,502.5 356.8,504.5 C356.2,507 355.5,509 354.5,510.5 C352.5,512.3 350.5,513.5 349,514 C346,514 343,513.5 341,512.8 C338,511 335.5,509.5 332.5,508.3 C329.5,507.5 327,507.3 324.5,507.3 Z" fill="url(#cg4)" filter="url(#b05)"/>
</g>
<ellipse cx="347.3" cy="500.2" rx="7.8" ry="8.0" transform="rotate(0 347.3 500.2)" fill="#a0a0a0" stroke="#151515" stroke-width="1.2"/>
<ellipse cx="347.3" cy="500.4" rx="5.1" ry="5.8" transform="rotate(0 347.3 500.4)" fill="#c0c0c0" stroke="#151515" stroke-width="1.1"/>
<ellipse cx="347.6" cy="500.4" rx="3.0" ry="3.9" transform="rotate(0 347.6 500.4)" fill="#d4d4d4" stroke="#151515" stroke-width="1.0"/>
<ellipse cx="347.8" cy="500.6" rx="1.1" ry="2.1" transform="rotate(0 347.8 500.6)" fill="#444" stroke="#151515" stroke-width="1.0"/>
<line x1="321.9" y1="489" x2="321.9" y2="513" stroke="#111" stroke-width="1.6"/>
<text x="358.9" y="471">3.69</text>
<text x="358" y="503.5">25.8</text>
<text transform="translate(228.9,484.2) rotate(-90)" text-anchor="middle">IgG</text>
<text transform="translate(316.4,477.2) rotate(-90)" text-anchor="middle">IL-17</text>
<line x1="225.3" y1="534.3" x2="225.3" y2="506.2" stroke="#111" stroke-width="1.2"/>
<path d="M221.5,507.2 L225.3,499.7 L229.10000000000002,507.2 Z" fill="#111"/>
<line x1="224.70000000000002" y1="534.3" x2="251.5" y2="534.3" stroke="#111" stroke-width="1.2"/>
<path d="M250.5,530.5 L259.0,534.3 L250.5,538.0999999999999 Z" fill="#111"/>
<line x1="313" y1="533.3" x2="313" y2="504" stroke="#111" stroke-width="1.2"/>
<path d="M309.2,505 L313,497.5 L316.8,505 Z" fill="#111"/>
<line x1="312.4" y1="533.3" x2="339.2" y2="533.3" stroke="#111" stroke-width="1.2"/>
<path d="M338.2,529.5 L346.7,533.3 L338.2,537.0999999999999 Z" fill="#111"/>
<text x="266.3" y="540">IgG</text>
<text x="352.7" y="540">IFN <tspan font-family="Liberation Serif, serif" font-style="italic" font-size="13">&#947;</tspan></text>
<text x="5.4" y="576.5" font-size="16" font-weight="bold">d</text>
<line x1="56.4" y1="572.2" x2="56.4" y2="712.3" stroke="#8a8a8a" stroke-width="1.0"/>
<line x1="52.4" y1="709.8" x2="56.4" y2="709.8" stroke="#8a8a8a" stroke-width="1.0"/>
<text x="48.8" y="714.4" text-anchor="end">0</text>
<line x1="52.4" y1="686.87" x2="56.4" y2="686.87" stroke="#8a8a8a" stroke-width="1.0"/>
<text x="48.8" y="691.47" text-anchor="end">100</text>
<line x1="52.4" y1="663.9399999999999" x2="56.4" y2="663.9399999999999" stroke="#8a8a8a" stroke-width="1.0"/>
<text x="48.8" y="668.54" text-anchor="end">200</text>
<line x1="52.4" y1="641.01" x2="56.4" y2="641.01" stroke="#8a8a8a" stroke-width="1.0"/>
<text x="48.8" y="645.61" text-anchor="end">300</text>
<line x1="52.4" y1="618.0799999999999" x2="56.4" y2="618.0799999999999" stroke="#8a8a8a" stroke-width="1.0"/>
<text x="48.8" y="622.68" text-anchor="end">400</text>
<line x1="52.4" y1="595.15" x2="56.4" y2="595.15" stroke="#8a8a8a" stroke-width="1.0"/>
<text x="48.8" y="599.75" text-anchor="end">500</text>
<line x1="52.4" y1="572.22" x2="56.4" y2="572.22" stroke="#8a8a8a" stroke-width="1.0"/>
<text x="48.8" y="576.82" text-anchor="end">600</text>
<line x1="56.4" y1="709.8" x2="197.7" y2="709.8" stroke="#8a8a8a" stroke-width="1.0"/>
<line x1="56.4" y1="709.8" x2="56.4" y2="712.3" stroke="#8a8a8a" stroke-width="1.0"/>
<line x1="103.3" y1="709.8" x2="103.3" y2="712.3" stroke="#8a8a8a" stroke-width="1.0"/>
<line x1="150.5" y1="709.8" x2="150.5" y2="712.3" stroke="#8a8a8a" stroke-width="1.0"/>
<line x1="197.7" y1="709.8" x2="197.7" y2="712.3" stroke="#8a8a8a" stroke-width="1.0"/>
<rect x="62.50" y="699.60" width="7.80" height="10.20" fill="#fff" stroke="#111" stroke-width="1.0"/>
<line x1="75.15" y1="671.1" x2="75.15" y2="653.4" stroke="#111" stroke-width="1.1"/>
<line x1="72.55000000000001" y1="653.4" x2="77.75" y2="653.4" stroke="#111" stroke-width="1.1"/>
<rect x="71.30" y="671.10" width="7.70" height="38.70" fill="#cccccc" stroke="#111" stroke-width="1.0"/>
<rect x="80.00" y="700.20" width="7.70" height="9.60" fill="#a0a0a0" stroke="#111" stroke-width="1.0"/>
<line x1="92.5" y1="601.8" x2="92.5" y2="585" stroke="#111" stroke-width="1.1"/>
<line x1="89.9" y1="585" x2="95.1" y2="585" stroke="#111" stroke-width="1.1"/>
<rect x="88.70" y="601.80" width="7.60" height="108.00" fill="#1a1a1a" stroke="#111" stroke-width="1.0"/>
<rect x="110.10" y="702.10" width="7.90" height="7.70" fill="#fff" stroke="#111" stroke-width="1.0"/>
<line x1="122.7" y1="672.4" x2="122.7" y2="661" stroke="#111" stroke-width="1.1"/>
<line x1="120.10000000000001" y1="661" x2="125.3" y2="661" stroke="#111" stroke-width="1.1"/>
<rect x="119.00" y="672.40" width="7.40" height="37.40" fill="#cccccc" stroke="#111" stroke-width="1.0"/>
<rect x="127.40" y="702.10" width="7.20" height="7.70" fill="#a0a0a0" stroke="#111" stroke-width="1.0"/>
<line x1="139.55" y1="651.5" x2="139.55" y2="643.8" stroke="#111" stroke-width="1.1"/>
<line x1="136.95000000000002" y1="643.8" x2="142.15" y2="643.8" stroke="#111" stroke-width="1.1"/>
<rect x="135.60" y="651.50" width="7.90" height="58.30" fill="#1a1a1a" stroke="#111" stroke-width="1.0"/>
<rect x="156.80" y="694.40" width="8.00" height="15.40" fill="#fff" stroke="#111" stroke-width="1.0"/>
<line x1="169.5" y1="687.3" x2="169.5" y2="682.9" stroke="#111" stroke-width="1.1"/>
<line x1="166.9" y1="682.9" x2="172.1" y2="682.9" stroke="#111" stroke-width="1.1"/>
<rect x="165.80" y="687.30" width="7.40" height="22.50" fill="#cccccc" stroke="#111" stroke-width="1.0"/>
<rect x="174.20" y="699.50" width="7.20" height="10.30" fill="#a0a0a0" stroke="#111" stroke-width="1.0"/>
<line x1="186.60000000000002" y1="663.5" x2="186.60000000000002" y2="656.6" stroke="#111" stroke-width="1.1"/>
<line x1="184.00000000000003" y1="656.6" x2="189.20000000000002" y2="656.6" stroke="#111" stroke-width="1.1"/>
<rect x="182.40" y="663.50" width="8.40" height="46.30" fill="#1a1a1a" stroke="#111" stroke-width="1.0"/>
<line x1="68" y1="577.5" x2="93.7" y2="577.5" stroke="#1a1a1a" stroke-width="1.1"/>
<text x="81.44999999999999" y="574.7" font-size="10" text-anchor="middle" letter-spacing="1.3">**</text>
<line x1="170.4" y1="645.5" x2="196" y2="645.5" stroke="#1a1a1a" stroke-width="1.1"/>
<text x="183.2" y="644.1" font-size="10" text-anchor="middle">*</text>
<text transform="translate(15.7,640.8) rotate(-90)" text-anchor="middle">IL-17 (pg ml<tspan font-size="8.5" dy="-4.5">&#8722;1</tspan><tspan dy="4.5">)</tspan></text>
<text transform="translate(84.0,719.5) rotate(-45)" text-anchor="end">1 Week</text>
<text transform="translate(131.4,719.5) rotate(-45)" text-anchor="end">4 Weeks</text>
<text transform="translate(178.3,719.5) rotate(-45)" text-anchor="end">12 Weeks</text>
<line x1="269.8" y1="573.9" x2="269.8" y2="712.3" stroke="#8a8a8a" stroke-width="1.0"/>
<line x1="265.8" y1="709.8" x2="269.8" y2="709.8" stroke="#8a8a8a" stroke-width="1.0"/>
<text x="263.7" y="714.4" text-anchor="end">0</text>
<line x1="265.8" y1="682.62" x2="269.8" y2="682.62" stroke="#8a8a8a" stroke-width="1.0"/>
<text x="263.7" y="687.22" text-anchor="end">500</text>
<line x1="265.8" y1="655.4399999999999" x2="269.8" y2="655.4399999999999" stroke="#8a8a8a" stroke-width="1.0"/>
<text x="263.7" y="660.04" text-anchor="end">1,000</text>
<line x1="265.8" y1="628.26" x2="269.8" y2="628.26" stroke="#8a8a8a" stroke-width="1.0"/>
<text x="263.7" y="632.86" text-anchor="end">1,500</text>
<line x1="265.8" y1="601.0799999999999" x2="269.8" y2="601.0799999999999" stroke="#8a8a8a" stroke-width="1.0"/>
<text x="263.7" y="605.68" text-anchor="end">2,000</text>
<line x1="265.8" y1="573.9" x2="269.8" y2="573.9" stroke="#8a8a8a" stroke-width="1.0"/>
<text x="263.7" y="578.5" text-anchor="end">2,500</text>
<line x1="269.8" y1="709.8" x2="408.5" y2="709.8" stroke="#8a8a8a" stroke-width="1.0"/>
<line x1="269.8" y1="709.8" x2="269.8" y2="712.3" stroke="#8a8a8a" stroke-width="1.0"/>
<line x1="318.5" y1="709.8" x2="318.5" y2="712.3" stroke="#8a8a8a" stroke-width="1.0"/>
<line x1="363.6" y1="709.8" x2="363.6" y2="712.3" stroke="#8a8a8a" stroke-width="1.0"/>
<line x1="408.5" y1="709.8" x2="408.5" y2="712.3" stroke="#8a8a8a" stroke-width="1.0"/>
<rect x="276.50" y="700.80" width="7.50" height="9.00" fill="#fff" stroke="#111" stroke-width="1.0"/>
<line x1="289.0" y1="696.7" x2="289.0" y2="692.3" stroke="#111" stroke-width="1.1"/>
<line x1="286.4" y1="692.3" x2="291.6" y2="692.3" stroke="#111" stroke-width="1.1"/>
<rect x="285.00" y="696.70" width="8.00" height="13.10" fill="#cccccc" stroke="#111" stroke-width="1.0"/>
<line x1="297.5" y1="703.3" x2="297.5" y2="696" stroke="#111" stroke-width="1.1"/>
<line x1="294.9" y1="696" x2="300.1" y2="696" stroke="#111" stroke-width="1.1"/>
<rect x="294.00" y="703.30" width="7.00" height="6.50" fill="#a0a0a0" stroke="#111" stroke-width="1.0"/>
<line x1="306.35" y1="689.4" x2="306.35" y2="686.2" stroke="#111" stroke-width="1.1"/>
<line x1="303.75" y1="686.2" x2="308.95000000000005" y2="686.2" stroke="#111" stroke-width="1.1"/>
<rect x="302.00" y="689.40" width="8.70" height="20.40" fill="#1a1a1a" stroke="#111" stroke-width="1.0"/>
<rect x="324.00" y="702.50" width="7.60" height="7.30" fill="#fff" stroke="#111" stroke-width="1.0"/>
<rect x="332.60" y="699.60" width="7.60" height="10.20" fill="#cccccc" stroke="#111" stroke-width="1.0"/>
<line x1="344.65" y1="703.8" x2="344.65" y2="697.1" stroke="#111" stroke-width="1.1"/>
<line x1="342.04999999999995" y1="697.1" x2="347.25" y2="697.1" stroke="#111" stroke-width="1.1"/>
<rect x="341.20" y="703.80" width="6.90" height="6.00" fill="#a0a0a0" stroke="#111" stroke-width="1.0"/>
<line x1="353.0" y1="684.1" x2="353.0" y2="683.3" stroke="#111" stroke-width="1.1"/>
<line x1="350.4" y1="683.3" x2="355.6" y2="683.3" stroke="#111" stroke-width="1.1"/>
<rect x="349.10" y="684.10" width="7.80" height="25.70" fill="#1a1a1a" stroke="#111" stroke-width="1.0"/>
<rect x="370.70" y="700.60" width="7.10" height="9.20" fill="#fff" stroke="#111" stroke-width="1.0"/>
<line x1="382.6" y1="698.1" x2="382.6" y2="696.4" stroke="#111" stroke-width="1.1"/>
<line x1="380.0" y1="696.4" x2="385.20000000000005" y2="696.4" stroke="#111" stroke-width="1.1"/>
<rect x="378.80" y="698.10" width="7.60" height="11.70" fill="#cccccc" stroke="#111" stroke-width="1.0"/>
<line x1="391.1" y1="699.6" x2="391.1" y2="689" stroke="#111" stroke-width="1.1"/>
<line x1="388.5" y1="689" x2="393.70000000000005" y2="689" stroke="#111" stroke-width="1.1"/>
<rect x="387.40" y="699.60" width="7.40" height="10.20" fill="#a0a0a0" stroke="#111" stroke-width="1.0"/>
<line x1="399.95000000000005" y1="614.1" x2="399.95000000000005" y2="587.5" stroke="#111" stroke-width="1.1"/>
<line x1="397.35" y1="587.5" x2="402.55000000000007" y2="587.5" stroke="#111" stroke-width="1.1"/>
<rect x="395.80" y="614.10" width="8.30" height="95.70" fill="#1a1a1a" stroke="#111" stroke-width="1.0"/>
<line x1="332.9" y1="677.5" x2="357.9" y2="677.5" stroke="#1a1a1a" stroke-width="1.1"/>
<text x="345.4" y="678.5" font-size="10" text-anchor="middle">*</text>
<line x1="381.3" y1="582.5" x2="405.8" y2="582.5" stroke="#1a1a1a" stroke-width="1.1"/>
<text x="394.15000000000003" y="583" font-size="10" text-anchor="middle" letter-spacing="1.3">**</text>
<text transform="translate(220.9,641.7) rotate(-90)" text-anchor="middle">IFN<tspan font-family="Liberation Serif, serif" font-style="italic" font-size="13">&#947;</tspan> (pg ml<tspan font-size="8.5" dy="-4.5">&#8722;1</tspan><tspan dy="4.5">)</tspan></text>
<text transform="translate(298.1,719.5) rotate(-45)" text-anchor="end">1 Week</text>
<text transform="translate(345.0,719.5) rotate(-45)" text-anchor="end">4 Weeks</text>
<text transform="translate(391.9,719.5) rotate(-45)" text-anchor="end">12 Weeks</text>
<rect x="275.9" y="573.9" width="8.7" height="7.0" fill="#fff" stroke="#111" stroke-width="1"/>
<rect x="275.9" y="590.9" width="8.7" height="7.5" fill="#cccccc" stroke="#111" stroke-width="1"/>
<rect x="275.9" y="606.7" width="8.7" height="6.8" fill="#a0a0a0" stroke="#111" stroke-width="1"/>
<rect x="275.9" y="623.8" width="8.7" height="7.5" fill="#1a1a1a" stroke="#111" stroke-width="1"/>
<text x="288.2" y="581.6">NS</text>
<text x="288.2" y="599"><tspan font-family="Liberation Serif, serif" font-size="14">&#945;</tspan>GalCer</text>
<text x="288.2" y="614.2">NS</text>
<text x="288.2" y="631.6"><tspan font-family="Liberation Serif, serif" font-size="14">&#945;</tspan>GalCer</text>
<line x1="343.5" y1="573.4" x2="343.5" y2="596.5" stroke="#111" stroke-width="1.0"/>
<line x1="343.5" y1="607.4" x2="343.5" y2="630.6" stroke="#111" stroke-width="1.0"/>
<text x="346.6" y="589.2">Air</text>
<text x="346.6" y="622.8">CS</text>
</g>
</svg>
</body></html>
